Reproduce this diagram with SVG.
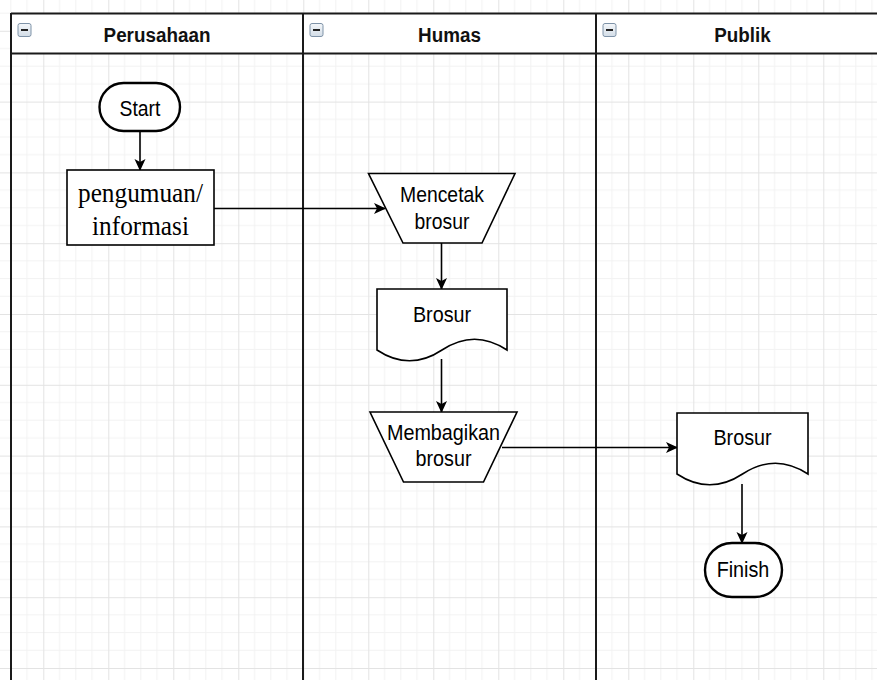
<svg xmlns="http://www.w3.org/2000/svg" width="877" height="680" viewBox="0 0 877 680">
  <style>
    .lane { stroke: #1a1a1a; stroke-width: 2; fill: none; }
    .hdr { font-family: "Liberation Sans", Arial, sans-serif; font-weight: bold; font-size: 20.5px; fill: #111; text-anchor: middle; }
    .shape { fill: #fff; stroke: #000; stroke-width: 1.6; }
    .term { fill: #fff; stroke: #000; stroke-width: 2.4; }
    .lbl { font-family: "Liberation Sans", Arial, sans-serif; font-size: 21.5px; fill: #000; text-anchor: middle; }
    .serif { font-family: "Liberation Serif", "Times New Roman", serif; font-size: 27.5px; fill: #000; text-anchor: middle; }
    .edge { stroke: #000; stroke-width: 1.6; fill: none; marker-end: url(#arrow); }
    .icon { fill: url(#iconFill); stroke: #7f93a8; stroke-width: 1; }
    .iconbar { stroke: #222; stroke-width: 2; }
  </style>
  <defs>
    <pattern id="grid" patternUnits="userSpaceOnUse" x="43.3" y="30.8" width="65" height="70.8">
      <g stroke="#f2f2f2" stroke-width="1">
        <line x1="16.25" y1="0" x2="16.25" y2="70.8"/>
        <line x1="32.5" y1="0" x2="32.5" y2="70.8"/>
        <line x1="48.75" y1="0" x2="48.75" y2="70.8"/>
        <line x1="0" y1="17.7" x2="65" y2="17.7"/>
        <line x1="0" y1="35.4" x2="65" y2="35.4"/>
        <line x1="0" y1="53.1" x2="65" y2="53.1"/>
      </g>
      <g stroke="#e3e3e3" stroke-width="1">
        <line x1="0.5" y1="0" x2="0.5" y2="70.8"/>
        <line x1="0" y1="0.5" x2="65" y2="0.5"/>
      </g>
    </pattern>
    <linearGradient id="iconFill" x1="0" y1="0" x2="0" y2="1">
      <stop offset="0" stop-color="#f4f7fa"/>
      <stop offset="1" stop-color="#d3dde7"/>
    </linearGradient>
    <marker id="arrow" markerUnits="userSpaceOnUse" viewBox="0 0 12 12" refX="11" refY="6" markerWidth="12" markerHeight="12" orient="auto">
      <path d="M0,0.5 L12,6 L0,11.5 L3,6 Z" fill="#000"/>
    </marker>
  </defs>

  <rect width="877" height="680" fill="#fff"/>
  <rect width="877" height="680" fill="url(#grid)"/>

  <g id="pool">
    <rect x="11" y="13.5" width="866" height="40" fill="#fff"/>
    <line class="lane" x1="11" y1="13.5" x2="877" y2="13.5"/>
    <line class="lane" x1="11" y1="53.5" x2="877" y2="53.5"/>
    <line class="lane" x1="11" y1="13" x2="11" y2="680"/>
    <line class="lane" x1="303" y1="13" x2="303" y2="680"/>
    <line class="lane" x1="596" y1="13" x2="596" y2="680"/>
  </g>

  <g id="lane-perusahaan">
    <rect class="icon" x="18" y="23.5" width="13" height="13" rx="2"/>
    <line class="iconbar" x1="21" y1="30" x2="28" y2="30"/>
    <text class="hdr" transform="translate(157,41.5) scale(0.92,1)">Perusahaan</text>
  </g>
  <g id="lane-humas">
    <rect class="icon" x="310" y="23.5" width="13" height="13" rx="2"/>
    <line class="iconbar" x1="313" y1="30" x2="320" y2="30"/>
    <text class="hdr" transform="translate(449.5,41.5) scale(0.92,1)">Humas</text>
  </g>
  <g id="lane-publik">
    <rect class="icon" x="603" y="23.5" width="13" height="13" rx="2"/>
    <line class="iconbar" x1="606" y1="30" x2="613" y2="30"/>
    <text class="hdr" transform="translate(742.5,41.5) scale(0.92,1)">Publik</text>
  </g>

  <g id="connectors">
    <path class="edge" d="M140,131 V170"/>
    <path class="edge" d="M214,208.5 H385"/>
    <path class="edge" d="M441.5,243 V289"/>
    <path class="edge" d="M441.5,359 V412"/>
    <path class="edge" d="M502,447.5 H677"/>
    <path class="edge" d="M742,484 V543"/>
  </g>

  <g id="start">
    <rect class="term" x="99.5" y="83" width="80.5" height="48" rx="24" ry="24"/>
    <text class="lbl" transform="translate(140,116) scale(0.9,1)">Start</text>
  </g>

  <g id="pengumuman">
    <rect class="shape" x="67" y="170" width="147" height="75" stroke-width="2"/>
    <text class="serif" transform="translate(140.5,202) scale(0.92,1)">pengumuan/</text>
    <text class="serif" transform="translate(140.5,235) scale(0.92,1)">informasi</text>
  </g>

  <g id="mencetak">
    <polygon class="shape" points="368.5,173.5 515,173.5 482,243 403,243"/>
    <text class="lbl" transform="translate(442,202) scale(0.9,1)">Mencetak</text>
    <text class="lbl" transform="translate(442,228.5) scale(0.9,1)">brosur</text>
  </g>

  <g id="brosur-humas">
    <path class="shape" d="M377,289 H507 V350 Q474.5,328.4 442,350 Q409.5,371.6 377,350 Z"/>
    <text class="lbl" transform="translate(442,322) scale(0.92,1)">Brosur</text>
  </g>

  <g id="membagikan">
    <polygon class="shape" points="370,412 517,412 483.5,482 403.5,482"/>
    <text class="lbl" transform="translate(443.5,440) scale(0.92,1)">Membagikan</text>
    <text class="lbl" transform="translate(443.5,466) scale(0.92,1)">brosur</text>
  </g>

  <g id="brosur-publik">
    <path class="shape" d="M677,413 H808 V474 Q775.25,452.4 742.5,474 Q709.75,495.6 677,474 Z"/>
    <text class="lbl" transform="translate(742.5,445) scale(0.92,1)">Brosur</text>
  </g>

  <g id="finish">
    <rect class="term" x="705" y="543" width="77" height="54" rx="27" ry="27"/>
    <text class="lbl" transform="translate(743,577) scale(0.92,1)">Finish</text>
  </g>
</svg>
